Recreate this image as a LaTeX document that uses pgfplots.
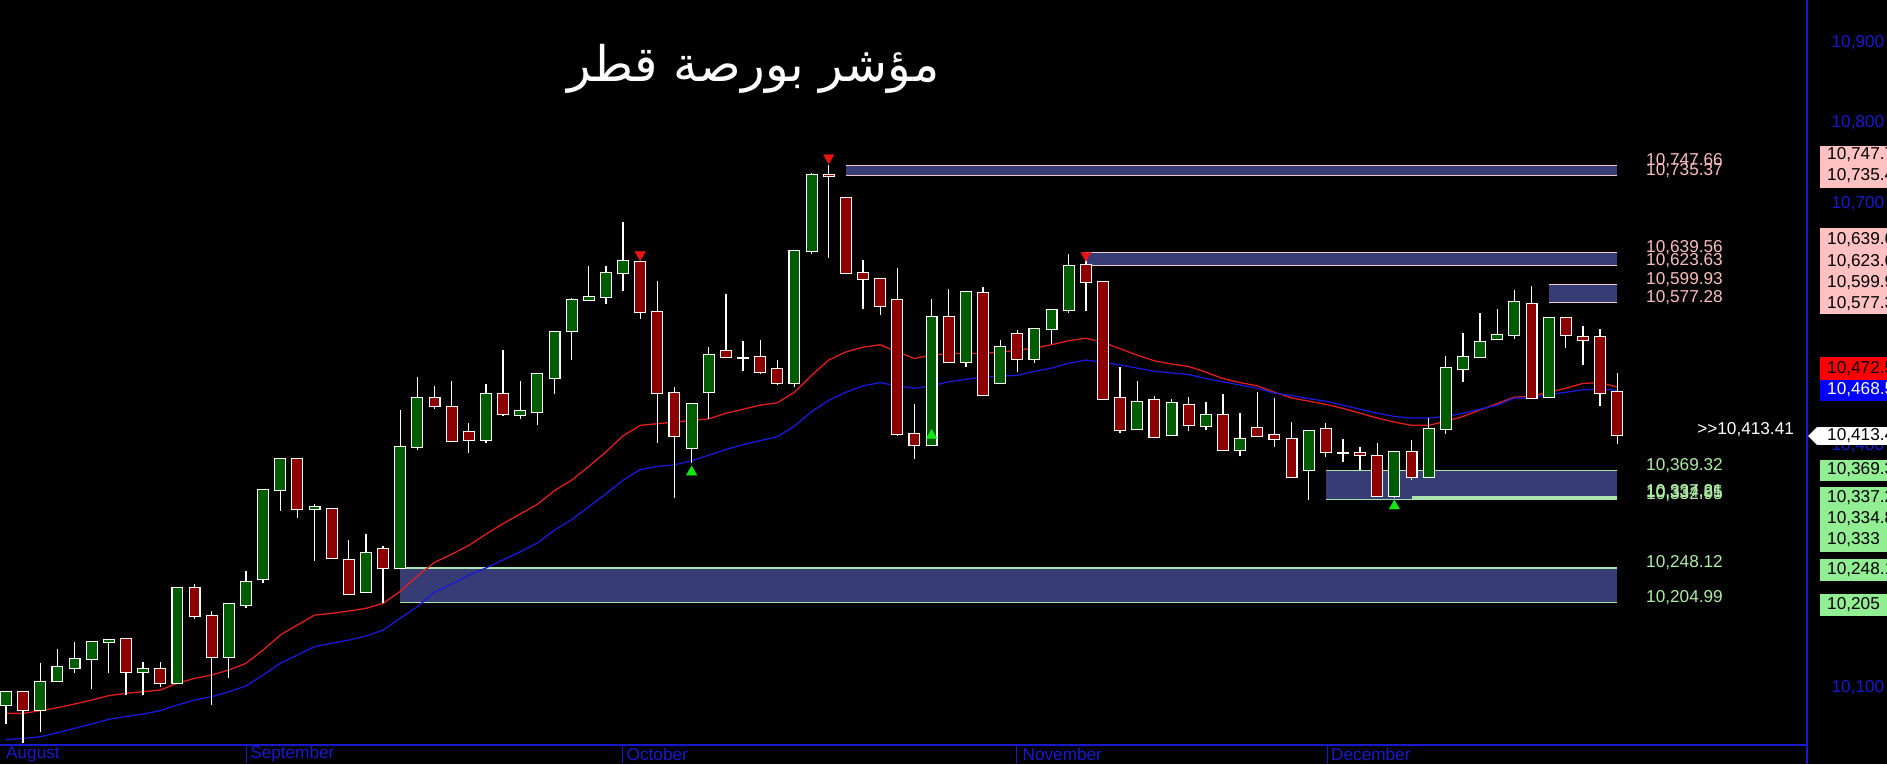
\documentclass[border=0pt]{standalone}
\usepackage{pgfplots}
\pgfplotsset{compat=1.18}
\usepackage{pgfplotstable}
\usepackage{fontspec}
\setmainfont{Liberation Sans}
\newfontfamily\arabicfont[Script=Arabic]{DejaVu Sans}
\TeXXeTstate=1
\definecolor{bodygreen}{RGB}{0,92,0}
\definecolor{bodyred}{RGB}{140,0,0}
\definecolor{emared}{RGB}{225,30,30}
\definecolor{emablue}{RGB}{25,25,215}
\definecolor{bandfill}{RGB}{56,60,116}
\definecolor{pinkedge}{RGB}{240,200,205}
\definecolor{greenedge}{RGB}{170,230,170}
\definecolor{pinktxt}{RGB}{250,190,190}
\definecolor{greentxt}{RGB}{175,235,165}
\definecolor{axblue}{RGB}{25,25,205}
\definecolor{boxpink}{RGB}{255,193,193}
\definecolor{boxgreen}{RGB}{146,238,146}
\definecolor{trired}{RGB}{235,20,20}
\definecolor{trigreen}{RGB}{20,230,20}

\pgfplotstableread{
i o h l c
0 10077.6 10095.4 10054.4 10093.7
1 10094.5 10094.5 10030.4 10071.4
2 10071.4 10129.7 10044.9 10106.9
3 10107.3 10147.5 10107.3 10124.7
4 10123.5 10156.2 10118.1 10134.6
5 10134.6 10155.7 10097.4 10155.7
6 10155.7 10158.2 10117.3 10158.2
7 10159.5 10159.5 10090.0 10118.5
8 10118.9 10130.9 10090.0 10122.2
9 10122.2 10130.9 10099.9 10104.9
10 10104.9 10222.7 10104.9 10222.7
11 10222.7 10228.1 10184.7 10188.0
12 10188.0 10194.6 10078.0 10137.1
13 10137.1 10202.9 10111.1 10202.9
14 10201.6 10244.7 10198.8 10230.2
15 10233.9 10344.3 10229.8 10344.3
16 10344.3 10382.8 10319.1 10382.8
17 10382.8 10382.8 10310.0 10320.7
18 10320.7 10327.4 10256.6 10323.2
19 10320.7 10320.7 10260.0 10260.0
20 10257.5 10282.7 10215.7 10215.7
21 10217.8 10290.1 10217.8 10266.2
22 10271.1 10275.3 10204.1 10247.5
23 10247.5 10444.0 10247.5 10397.7
24 10397.7 10484.5 10394.4 10458.5
25 10458.5 10473.4 10445.2 10448.5
26 10447.3 10480.0 10405.1 10405.1
27 10417.1 10427.5 10391.1 10406.4
28 10406.4 10476.3 10403.5 10463.4
29 10463.4 10518.4 10437.0 10438.6
30 10437.4 10480.0 10433.3 10442.3
31 10441.1 10489.1 10425.8 10489.1
32 10483.3 10541.2 10464.3 10541.2
33 10541.6 10582.6 10506.1 10580.1
34 10580.1 10622.7 10580.1 10583.8
35 10584.6 10622.7 10576.0 10613.6
36 10613.6 10677.3 10592.1 10628.5
37 10627.2 10627.2 10556.5 10565.2
38 10565.2 10604.1 10403.1 10464.7
39 10464.7 10472.1 10335.3 10411.4
40 10396.5 10451.1 10377.9 10451.1
41 10465.9 10522.2 10433.3 10511.8
42 10516.8 10587.5 10509.4 10509.4
43 10509.0 10529.2 10492.8 10509.0
44 10509.4 10530.5 10488.3 10491.6
45 10494.5 10505.6 10475.1 10477.1
46 10477.1 10640.9 10472.1 10640.9
47 10640.9 10738.0 10638.0 10735.4
48 10735.4 10747.7 10633.0 10734.0
49 10706.7 10706.7 10613.6 10613.6
50 10613.6 10630.1 10569.0 10606.2
51 10606.2 10606.2 10561.9 10573.1
52 10580.1 10620.0 10411.8 10414.8
53 10413.8 10451.5 10383.8 10400.2
54 10400.2 10581.7 10400.2 10559.0
55 10559.0 10594.2 10503.1 10503.1
56 10503.1 10590.0 10497.8 10590.0
57 10588.7 10596.6 10462.2 10462.2
58 10477.1 10530.8 10477.1 10522.6
59 10537.9 10543.2 10491.6 10506.9
60 10506.9 10544.1 10502.7 10544.1
61 10544.1 10567.7 10526.3 10567.7
62 10567.7 10637.5 10564.8 10622.2
63 10623.6 10639.6 10566.8 10603.2
64 10603.2 10603.2 10457.2 10457.2
65 10458.5 10496.9 10415.9 10418.8
66 10420.0 10479.6 10420.0 10454.3
67 10456.0 10460.9 10410.5 10410.5
68 10412.5 10457.2 10412.5 10452.3
69 10449.8 10459.7 10418.4 10425.0
70 10423.7 10453.5 10418.8 10437.4
71 10437.4 10463.4 10394.0 10394.0
72 10394.0 10439.9 10386.5 10408.4
73 10421.2 10465.9 10411.7 10411.7
74 10412.6 10458.5 10397.7 10408.0
75 10407.6 10428.7 10360.4 10360.4
76 10369.5 10418.3 10332.7 10417.5
77 10420.0 10427.4 10386.1 10391.4
78 10391.0 10407.6 10379.0 10391.0
79 10390.2 10398.5 10369.5 10387.7
80 10387.3 10402.6 10336.9 10336.9
81 10336.9 10391.4 10334.4 10391.4
82 10391.4 10406.7 10357.1 10360.4
83 10361.2 10433.6 10361.2 10420.0
84 10420.0 10511.0 10413.8 10495.7
85 10494.5 10539.6 10479.2 10509.4
86 10509.4 10564.0 10509.4 10528.0
87 10531.7 10569.4 10531.7 10536.7
88 10536.7 10592.9 10531.7 10577.6
89 10576.0 10597.9 10458.5 10458.5
90 10459.8 10557.8 10459.8 10557.8
91 10557.8 10557.8 10520.6 10536.7
92 10534.2 10548.3 10500.3 10530.5
93 10534.2 10544.1 10449.4 10464.7
94 10466.0 10489.5 10401.9 10413.4
}\candles

\tikzset{lbl/.style={inner sep=0pt, font=\fontsize{17.2}{20}\selectfont}}

\begin{document}
\begin{tikzpicture}
\begin{axis}[
  scale only axis, width=1887pt, height=764pt,
  xmin=-0.35, xmax=109.74, ymin=10004.8, ymax=10952.7,
  axis line style={draw=none}, xtick=\empty, ytick=\empty,
  axis background/.style={fill=black},
  clip=true,
]
% zones
\addplot[fill=bandfill, draw=none] coordinates {(49,10735.37)(94,10735.37)(94,10747.66)(49,10747.66)};
\addplot[fill=bandfill, draw=none] coordinates {(63,10623.63)(94,10623.63)(94,10639.56)(63,10639.56)};
\addplot[fill=bandfill, draw=none] coordinates {(90,10577.28)(94,10577.28)(94,10599.93)(90,10599.93)};
\addplot[fill=bandfill, draw=none] coordinates {(77,10332.95)(94,10332.95)(94,10369.32)(77,10369.32)};
\addplot[fill=bandfill, draw=none] coordinates {(23,10204.99)(94,10204.99)(94,10248.12)(23,10248.12)};
\addplot[pinkedge, line width=1.3pt] coordinates {(49,10747.66)(94,10747.66)};
\addplot[pinkedge, line width=1.3pt] coordinates {(49,10735.37)(94,10735.37)};
\addplot[pinkedge, line width=1.3pt] coordinates {(63,10639.56)(94,10639.56)};
\addplot[pinkedge, line width=1.3pt] coordinates {(63,10623.63)(94,10623.63)};
\addplot[pinkedge, line width=1.3pt] coordinates {(90,10599.93)(94,10599.93)};
\addplot[pinkedge, line width=1.3pt] coordinates {(90,10577.28)(94,10577.28)};
\addplot[greenedge, line width=1.3pt] coordinates {(77,10369.32)(94,10369.32)};
\addplot[greenedge, line width=1.3pt] coordinates {(77,10332.95)(94,10332.95)};
\addplot[greenedge, line width=1.1pt] coordinates {(82,10337.21)(94,10337.21)};
\addplot[greenedge, line width=1.1pt] coordinates {(82,10334.85)(94,10334.85)};
\addplot[greenedge, line width=1.3pt] coordinates {(23,10248.12)(94,10248.12)};
\addplot[greenedge, line width=1.3pt] coordinates {(23,10204.99)(94,10204.99)};

% moving averages
\addplot[emared, line width=1.3pt] coordinates {(0,10067.6)(1,10067.6)(2,10071)(3,10074.7)(4,10079.2)(5,10084.2)(6,10089.6)(7,10092.5)(8,10094.5)(9,10096.6)(10,10104.9)(11,10111.1)(12,10115.2)(13,10121.4)(14,10129.7)(15,10146.2)(16,10164.8)(17,10177.2)(18,10189.6)(19,10191.7)(20,10194.6)(21,10197.9)(22,10204.1)(23,10219)(24,10238)(25,10255)(26,10265)(27,10276)(28,10290)(29,10303)(30,10315)(31,10327)(32,10344)(33,10357)(34,10374)(35,10392)(36,10412)(37,10425)(38,10427)(39,10429)(40,10431)(41,10433)(42,10440)(43,10445)(44,10450)(45,10453)(46,10466)(47,10487)(48,10506)(49,10516)(50,10522)(51,10525)(52,10516)(53,10508)(54,10512)(55,10514)(56,10514)(57,10514)(58,10516)(59,10518)(60,10521)(61,10525)(62,10530)(63,10533)(64,10528)(65,10520)(66,10512)(67,10505)(68,10501)(69,10498)(70,10491)(71,10483)(72,10478)(73,10474)(74,10466)(75,10459)(76,10455)(77,10451)(78,10446)(79,10440)(80,10434)(81,10429)(82,10425)(83,10425)(84,10430)(85,10436)(86,10444)(87,10452)(88,10460)(89,10461)(90,10466)(91,10471)(92,10477)(93,10478)(94,10472.5)};
\addplot[emablue, line width=1.3pt] coordinates {(0,10035)(1,10036.5)(2,10038.7)(3,10043.5)(4,10049)(5,10054.5)(6,10060.2)(7,10063.8)(8,10066.8)(9,10071)(10,10078)(11,10084.2)(12,10088.3)(13,10094.5)(14,10101.6)(15,10115.2)(16,10129.7)(17,10140)(18,10150.4)(19,10154.5)(20,10158.6)(21,10163.6)(22,10171)(23,10185.5)(24,10200)(25,10218)(26,10228)(27,10239)(28,10248)(29,10258)(30,10268)(31,10279)(32,10295)(33,10308)(34,10324)(35,10340)(36,10357)(37,10370)(38,10374)(39,10376)(40,10381)(41,10388)(42,10395)(43,10401)(44,10406)(45,10411)(46,10424)(47,10442)(48,10456)(49,10466)(50,10474)(51,10478)(52,10474)(53,10471)(54,10474)(55,10479)(56,10482)(57,10485)(58,10486)(59,10487)(60,10492)(61,10496)(62,10502)(63,10506)(64,10503)(65,10500)(66,10496)(67,10492)(68,10490)(69,10488)(70,10483)(71,10479)(72,10475)(73,10471)(74,10465)(75,10462)(76,10458)(77,10455)(78,10450)(79,10445)(80,10440)(81,10436)(82,10434)(83,10434)(84,10436)(85,10440)(86,10445)(87,10450)(88,10459)(89,10459)(90,10463)(91,10466)(92,10469)(93,10470)(94,10468.5)};

% candles: wicks
\addplot[draw=none, mark=none, error bars/.cd, y dir=plus, y explicit, error mark=none,
  error bar style={white, line width=1.3pt}]
  table[x=i, y=l, y error expr={\thisrow{h}-\thisrow{l}}] {\candles};
% body outline
\addplot[draw=none, mark=none, error bars/.cd, y dir=plus, y explicit, error mark=none,
  error bar style={white, line width=12pt}]
  table[x=i, y expr={min(\thisrow{o},\thisrow{c})-1.3}, y error expr={abs(\thisrow{c}-\thisrow{o})+2.6}] {\candles};
% green bodies
\addplot[draw=none, mark=none, unbounded coords=discard,
  restrict expr to domain={\thisrow{c}-\thisrow{o}}{0:3000},
  error bars/.cd, y dir=plus, y explicit, error mark=none,
  error bar style={bodygreen, line width=9.8pt}]
  table[x=i, y=o, y error expr={\thisrow{c}-\thisrow{o}}] {\candles};
% red bodies
\addplot[draw=none, mark=none, unbounded coords=discard,
  restrict expr to domain={\thisrow{o}-\thisrow{c}}{0.001:3000},
  error bars/.cd, y dir=plus, y explicit, error mark=none,
  error bar style={bodyred, line width=9.8pt}]
  table[x=i, y=c, y error expr={\thisrow{o}-\thisrow{c}}] {\candles};

% signals
\addplot[only marks, mark=triangle*, mark size=6pt, color=trired, mark options={rotate=180}]
  coordinates {(37,10636.7)(48,10757)(63,10636)};
\addplot[only marks, mark=triangle*, mark size=6pt, color=trigreen]
  coordinates {(40,10367)(54,10412.6)(81,10324.9)};

% frame lines
\draw[axblue, line width=1.3pt] (axis cs:-0.35,10028.4) -- (axis cs:105.08,10028.4);
\draw[axblue, line width=1.3pt] (axis cs:105.08,10004.8) -- (axis cs:105.08,10952.7);
\draw[axblue, line width=1pt] (axis cs:14.06,10028.4) -- (axis cs:14.06,10004.8);
\draw[axblue, line width=1pt] (axis cs:35.94,10028.4) -- (axis cs:35.94,10004.8);
\draw[axblue, line width=1pt] (axis cs:58.98,10028.4) -- (axis cs:58.98,10004.8);
\draw[axblue, line width=1pt] (axis cs:77.07,10028.4) -- (axis cs:77.07,10004.8);
\node[lbl, anchor=west, text=axblue] at (axis cs:0.0,10016.6) {August};
\node[lbl, anchor=west, text=axblue] at (axis cs:14.24,10016.6) {September};
\node[lbl, anchor=west, text=axblue] at (axis cs:36.2,10016.6) {October};
\node[lbl, anchor=west, text=axblue] at (axis cs:59.3,10016.6) {November};
\node[lbl, anchor=west, text=axblue] at (axis cs:77.3,10016.6) {December};

% price labels inside chart
\node[lbl, anchor=base west, text=pinktxt] at (axis cs:95.68,10747.66) {10,747.66};
\node[lbl, anchor=base west, text=pinktxt] at (axis cs:95.68,10735.37) {10,735.37};
\node[lbl, anchor=base west, text=pinktxt] at (axis cs:95.68,10639.56) {10,639.56};
\node[lbl, anchor=base west, text=pinktxt] at (axis cs:95.68,10623.63) {10,623.63};
\node[lbl, anchor=base west, text=pinktxt] at (axis cs:95.68,10599.93) {10,599.93};
\node[lbl, anchor=base west, text=pinktxt] at (axis cs:95.68,10577.28) {10,577.28};
\node[lbl, anchor=base west, text=white] at (axis cs:98.66,10413.41) {>{}>10,413.41};
\node[lbl, anchor=base west, text=greentxt] at (axis cs:95.68,10369.32) {10,369.32};
\node[lbl, anchor=base west, text=greentxt] at (axis cs:95.68,10337.21) {10,337.21};
\node[lbl, anchor=base west, text=greentxt] at (axis cs:95.68,10334.85) {10,334.85};
\node[lbl, anchor=base west, text=greentxt] at (axis cs:95.68,10332.95) {10,332.95};
\node[lbl, anchor=base west, text=greentxt] at (axis cs:95.68,10248.12) {10,248.12};
\node[lbl, anchor=base west, text=greentxt] at (axis cs:95.68,10204.99) {10,204.99};

% right price scale
\node[lbl, anchor=west, text=axblue] at (axis cs:106.5,10900) {10,900};
\node[lbl, anchor=west, text=axblue] at (axis cs:106.5,10800) {10,800};
\node[lbl, anchor=west, text=axblue] at (axis cs:106.5,10700) {10,700};
\node[lbl, anchor=west, text=axblue] at (axis cs:106.5,10600) {10,600};
\node[lbl, anchor=west, text=axblue] at (axis cs:106.5,10500) {10,500};
\node[lbl, anchor=west, text=axblue] at (axis cs:106.5,10400) {10,400};
\node[lbl, anchor=west, text=axblue] at (axis cs:106.5,10300) {10,300};
\node[lbl, anchor=west, text=axblue] at (axis cs:106.5,10200) {10,200};
\node[lbl, anchor=west, text=axblue] at (axis cs:106.5,10100) {10,100};
\fill[boxpink] (axis cs:105.84,10771.6) rectangle (axis cs:110.5,10719.5);
\fill[boxpink] (axis cs:105.84,10669.8) rectangle (axis cs:110.5,10563.1);
\fill[red] (axis cs:105.84,10509.8) rectangle (axis cs:110.5,10481.2);
\fill[blue] (axis cs:105.84,10481.2) rectangle (axis cs:110.5,10455.2);
\fill[white] (axis cs:105.14,10411.8) -- (axis cs:105.66,10422.9) -- (axis cs:110.5,10422.9) -- (axis cs:110.5,10400.6) -- (axis cs:105.66,10400.6) -- cycle;
\fill[boxgreen] (axis cs:105.84,10382.0) rectangle (axis cs:110.5,10355.9);
\fill[boxgreen] (axis cs:105.84,10348.5) rectangle (axis cs:110.5,10267.8);
\fill[boxgreen] (axis cs:105.84,10259.1) rectangle (axis cs:110.5,10231.9);
\fill[boxgreen] (axis cs:105.84,10215.7) rectangle (axis cs:110.5,10188.4);
\node[lbl, anchor=west, text=black] at (axis cs:106.24,10760.4) {10,747.7};
\node[lbl, anchor=west, text=black] at (axis cs:106.24,10734.3) {10,735.4};
\node[lbl, anchor=west, text=black] at (axis cs:106.24,10654.9) {10,639.6};
\node[lbl, anchor=west, text=black] at (axis cs:106.24,10627.6) {10,623.6};
\node[lbl, anchor=west, text=black] at (axis cs:106.24,10601.6) {10,599.9};
\node[lbl, anchor=west, text=black] at (axis cs:106.24,10575.5) {10,577.3};
\node[lbl, anchor=west, text=black] at (axis cs:106.24,10494.9) {10,472.5};
\node[lbl, anchor=west, text=white] at (axis cs:106.24,10468.8) {10,468.5};
\node[lbl, anchor=west, text=black] at (axis cs:106.24,10411.7) {10,413.4};
\node[lbl, anchor=west, text=black] at (axis cs:106.24,10369.6) {10,369.3};
\node[lbl, anchor=west, text=black] at (axis cs:106.24,10334.8) {10,337.2};
\node[lbl, anchor=west, text=black] at (axis cs:106.24,10308.8) {10,334.8};
\node[lbl, anchor=west, text=black] at (axis cs:106.24,10282.7) {10,333};
\node[lbl, anchor=west, text=black] at (axis cs:106.24,10245.5) {10,248.1};
\node[lbl, anchor=west, text=black] at (axis cs:106.24,10202.1) {10,205};

% title
\node[text=white, inner sep=0pt, font=\arabicfont\fontsize{49}{55}\selectfont] at (axis cs:43.6,10867) {\beginR مؤشر بورصة قطر\endR};
\end{axis}
\pgfresetboundingbox
\useasboundingbox (0,0) rectangle (1887pt,764pt);
\end{tikzpicture}
\end{document}
